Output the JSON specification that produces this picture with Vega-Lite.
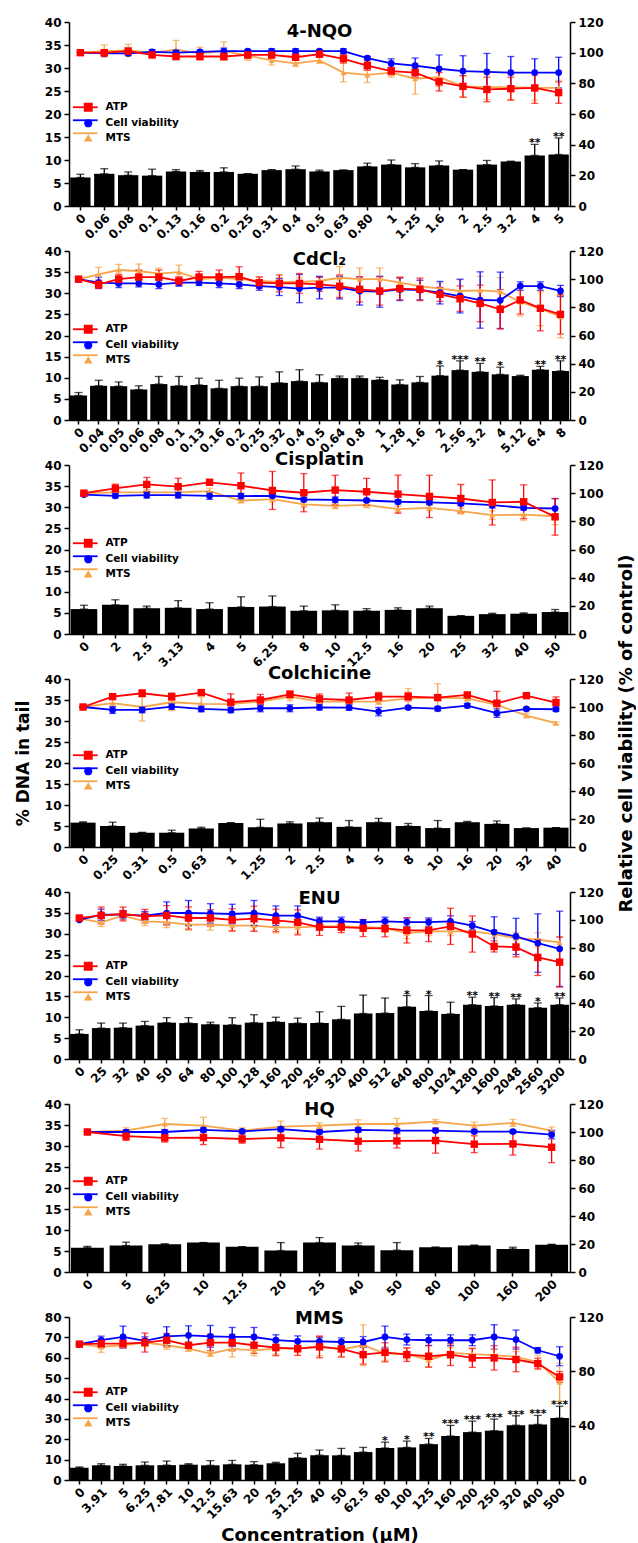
{
"$schema": "https://vega.github.io/schema/vega-lite/v6.json",
"background": "white",
"padding": {"left": 14, "right": 0, "top": 16, "bottom": 0},
"config": {
  "font": "DejaVu Sans",
  "view": {"stroke": null},
  "axis": {"labelFont": "DejaVu Sans", "labelFontSize": 12, "labelFontWeight": "bold", "labelColor": "#000", "domainColor": "#000", "domainWidth": 1.5, "tickColor": "#000", "tickWidth": 1.5, "tickSize": 5, "labelPadding": 3, "grid": false, "titleFontSize": 18, "titleFontWeight": "bold", "titleColor": "#000"},
  "axisX": {"labelAngle": -45, "tickSize": 4, "labelOverlap": false, "labelPadding": 2},
  "title": {"fontSize": 18, "fontWeight": "bold", "color": "#000", "anchor": "middle", "frame": "group", "offset": -22, "baseline": "alphabetic"},
  "legend": {"labelFontSize": 10.5, "labelFontWeight": "bold", "labelColor": "#000", "symbolSize": 50, "symbolOpacity": 1, "rowPadding": 2, "labelOffset": 12, "padding": 0}
},
"datasets": {
"b1": [
{"c":"0","d":6.2,"h":6.9,"t":""},{"c":"0.06","d":7.0,"h":8.1,"t":""},{"c":"0.08","d":6.7,"h":7.4,"t":""},{"c":"0.1","d":6.6,"h":8.0,"t":""},{"c":"0.13","d":7.5,"h":7.9,"t":""},{"c":"0.16","d":7.4,"h":7.7,"t":""},{"c":"0.2","d":7.4,"h":8.3,"t":""},{"c":"0.25","d":7.0,"h":7.0,"t":""},{"c":"0.31","d":7.8,"h":7.9,"t":""},{"c":"0.4","d":8.0,"h":8.7,"t":""},{"c":"0.5","d":7.5,"h":7.8,"t":""},{"c":"0.63","d":7.8,"h":7.8,"t":""},{"c":"0.80","d":8.6,"h":9.3,"t":""},{"c":"1","d":9.0,"h":10.0,"t":""},{"c":"1.25","d":8.4,"h":9.2,"t":""},{"c":"1.6","d":8.8,"h":9.8,"t":""},{"c":"2","d":7.9,"h":7.9,"t":""},{"c":"2.5","d":9.0,"h":9.9,"t":""},{"c":"3.2","d":9.7,"h":9.7,"t":""},{"c":"4","d":11.0,"h":13.4,"t":"**"},{"c":"5","d":11.2,"h":14.8,"t":"**"}
],
"l1": [
{"c":"0","s":"MTS","v":100,"e":0},{"c":"0.06","s":"MTS","v":101,"e":4},{"c":"0.08","s":"MTS","v":101.5,"e":4},{"c":"0.1","s":"MTS","v":100,"e":2},{"c":"0.13","s":"MTS","v":102,"e":6},{"c":"0.16","s":"MTS","v":99.5,"e":4},{"c":"0.2","s":"MTS","v":101,"e":6},{"c":"0.25","s":"MTS","v":98,"e":3},{"c":"0.31","s":"MTS","v":95,"e":3},{"c":"0.4","s":"MTS","v":93,"e":2},{"c":"0.5","s":"MTS","v":95,"e":2},{"c":"0.63","s":"MTS","v":87,"e":6},{"c":"0.80","s":"MTS","v":85.5,"e":5},{"c":"1","s":"MTS","v":87,"e":3},{"c":"1.25","s":"MTS","v":83,"e":10},{"c":"1.6","s":"MTS","v":84,"e":6},{"c":"2","s":"MTS","v":78,"e":7},{"c":"2.5","s":"MTS","v":77.5,"e":8},{"c":"3.2","s":"MTS","v":77.5,"e":8},{"c":"4","s":"MTS","v":77,"e":8},{"c":"5","s":"MTS","v":77,"e":5},
{"c":"0","s":"Cell viability","v":100,"e":0},{"c":"0.06","s":"Cell viability","v":99.5,"e":1.5},{"c":"0.08","s":"Cell viability","v":99.5,"e":1},{"c":"0.1","s":"Cell viability","v":100.5,"e":1.5},{"c":"0.13","s":"Cell viability","v":100,"e":1.5},{"c":"0.16","s":"Cell viability","v":100.5,"e":1},{"c":"0.2","s":"Cell viability","v":101,"e":2},{"c":"0.25","s":"Cell viability","v":101,"e":1},{"c":"0.31","s":"Cell viability","v":101,"e":1.5},{"c":"0.4","s":"Cell viability","v":101,"e":1.5},{"c":"0.5","s":"Cell viability","v":101,"e":1},{"c":"0.63","s":"Cell viability","v":101,"e":1.5},{"c":"0.80","s":"Cell viability","v":96.5,"e":1},{"c":"1","s":"Cell viability","v":93,"e":3},{"c":"1.25","s":"Cell viability","v":91.5,"e":5},{"c":"1.6","s":"Cell viability","v":89.5,"e":9},{"c":"2","s":"Cell viability","v":88,"e":10},{"c":"2.5","s":"Cell viability","v":87.5,"e":12},{"c":"3.2","s":"Cell viability","v":87,"e":10.5},{"c":"4","s":"Cell viability","v":87,"e":9},{"c":"5","s":"Cell viability","v":87,"e":10},
{"c":"0","s":"ATP","v":100,"e":0},{"c":"0.06","s":"ATP","v":100,"e":2},{"c":"0.08","s":"ATP","v":101,"e":2},{"c":"0.1","s":"ATP","v":98.5,"e":1.5},{"c":"0.13","s":"ATP","v":97.5,"e":2},{"c":"0.16","s":"ATP","v":97.5,"e":2},{"c":"0.2","s":"ATP","v":97.5,"e":2},{"c":"0.25","s":"ATP","v":98.5,"e":2},{"c":"0.31","s":"ATP","v":98.5,"e":2},{"c":"0.4","s":"ATP","v":97,"e":1.5},{"c":"0.5","s":"ATP","v":99,"e":2},{"c":"0.63","s":"ATP","v":96,"e":3},{"c":"0.80","s":"ATP","v":91.5,"e":3},{"c":"1","s":"ATP","v":88,"e":2.5},{"c":"1.25","s":"ATP","v":87,"e":3},{"c":"1.6","s":"ATP","v":81,"e":6},{"c":"2","s":"ATP","v":78,"e":7},{"c":"2.5","s":"ATP","v":76,"e":8},{"c":"3.2","s":"ATP","v":76.5,"e":7.5},{"c":"4","s":"ATP","v":77,"e":10},{"c":"5","s":"ATP","v":74,"e":7}
],
"b2": [
{"c":"0","d":5.8,"h":6.5,"t":""},{"c":"0.04","d":8.1,"h":9.4,"t":""},{"c":"0.05","d":8.0,"h":9.0,"t":""},{"c":"0.06","d":7.2,"h":8.1,"t":""},{"c":"0.08","d":8.5,"h":10.3,"t":""},{"c":"0.1","d":8.1,"h":10.3,"t":""},{"c":"0.13","d":8.3,"h":9.9,"t":""},{"c":"0.16","d":7.5,"h":9.4,"t":""},{"c":"0.2","d":8.0,"h":9.9,"t":""},{"c":"0.25","d":8.0,"h":10.2,"t":""},{"c":"0.32","d":8.8,"h":11.4,"t":""},{"c":"0.4","d":9.2,"h":11.9,"t":""},{"c":"0.5","d":8.9,"h":10.7,"t":""},{"c":"0.64","d":9.9,"h":10.4,"t":""},{"c":"0.8","d":9.9,"h":10.4,"t":""},{"c":"1","d":9.5,"h":10.1,"t":""},{"c":"1.28","d":8.4,"h":9.5,"t":""},{"c":"1.6","d":8.9,"h":10.3,"t":""},{"c":"2","d":10.5,"h":12.8,"t":"*"},{"c":"2.56","d":11.8,"h":14.0,"t":"***"},{"c":"3.2","d":11.4,"h":13.4,"t":"**"},{"c":"4","d":10.8,"h":12.5,"t":"*"},{"c":"5.12","d":10.4,"h":10.6,"t":""},{"c":"6.4","d":11.9,"h":12.7,"t":"**"},{"c":"8","d":11.6,"h":14.0,"t":"**"}
],
"l2": [
{"c":"0","s":"MTS","v":100,"e":0},{"c":"0.04","s":"MTS","v":103.4,"e":5},{"c":"0.05","s":"MTS","v":106.5,"e":4},{"c":"0.06","s":"MTS","v":105.8,"e":5},{"c":"0.08","s":"MTS","v":103.9,"e":4},{"c":"0.1","s":"MTS","v":105,"e":5},{"c":"0.13","s":"MTS","v":100,"e":3},{"c":"0.16","s":"MTS","v":101,"e":3},{"c":"0.2","s":"MTS","v":100,"e":3},{"c":"0.25","s":"MTS","v":98.7,"e":3},{"c":"0.32","s":"MTS","v":98,"e":3},{"c":"0.4","s":"MTS","v":98,"e":3},{"c":"0.5","s":"MTS","v":98.7,"e":3},{"c":"0.64","s":"MTS","v":101,"e":8},{"c":"0.8","s":"MTS","v":100,"e":8},{"c":"1","s":"MTS","v":100,"e":8},{"c":"1.28","s":"MTS","v":97.5,"e":4},{"c":"1.6","s":"MTS","v":95,"e":4},{"c":"2","s":"MTS","v":93.3,"e":4},{"c":"2.56","s":"MTS","v":91.6,"e":8},{"c":"3.2","s":"MTS","v":92,"e":10},{"c":"4","s":"MTS","v":91.1,"e":10},{"c":"5.12","s":"MTS","v":83.8,"e":10},{"c":"6.4","s":"MTS","v":79,"e":12},{"c":"8","s":"MTS","v":73.4,"e":15},
{"c":"0","s":"Cell viability","v":100,"e":0},{"c":"0.04","s":"Cell viability","v":97.5,"e":4},{"c":"0.05","s":"Cell viability","v":97,"e":3},{"c":"0.06","s":"Cell viability","v":97,"e":2.5},{"c":"0.08","s":"Cell viability","v":96.3,"e":3},{"c":"0.1","s":"Cell viability","v":97.5,"e":2.5},{"c":"0.13","s":"Cell viability","v":97.5,"e":2},{"c":"0.16","s":"Cell viability","v":97,"e":3},{"c":"0.2","s":"Cell viability","v":96.3,"e":3},{"c":"0.25","s":"Cell viability","v":95.1,"e":3},{"c":"0.32","s":"Cell viability","v":94.4,"e":6},{"c":"0.4","s":"Cell viability","v":93.3,"e":10},{"c":"0.5","s":"Cell viability","v":94,"e":8},{"c":"0.64","s":"Cell viability","v":94,"e":8},{"c":"0.8","s":"Cell viability","v":91.6,"e":10},{"c":"1","s":"Cell viability","v":91.1,"e":11},{"c":"1.28","s":"Cell viability","v":92.8,"e":8},{"c":"1.6","s":"Cell viability","v":92.3,"e":7},{"c":"2","s":"Cell viability","v":90.4,"e":8},{"c":"2.56","s":"Cell viability","v":88,"e":12},{"c":"3.2","s":"Cell viability","v":85.2,"e":20},{"c":"4","s":"Cell viability","v":85,"e":20},{"c":"5.12","s":"Cell viability","v":95.1,"e":3},{"c":"6.4","s":"Cell viability","v":95.1,"e":3},{"c":"8","s":"Cell viability","v":91.6,"e":4},
{"c":"0","s":"ATP","v":100,"e":0},{"c":"0.04","s":"ATP","v":96.3,"e":3},{"c":"0.05","s":"ATP","v":100,"e":3.5},{"c":"0.06","s":"ATP","v":101.5,"e":5},{"c":"0.08","s":"ATP","v":101.5,"e":5},{"c":"0.1","s":"ATP","v":98.7,"e":3},{"c":"0.13","s":"ATP","v":101.5,"e":4},{"c":"0.16","s":"ATP","v":101.5,"e":5},{"c":"0.2","s":"ATP","v":101.8,"e":7},{"c":"0.25","s":"ATP","v":97.5,"e":4},{"c":"0.32","s":"ATP","v":97,"e":6},{"c":"0.4","s":"ATP","v":97,"e":7},{"c":"0.5","s":"ATP","v":96.3,"e":5},{"c":"0.64","s":"ATP","v":95,"e":8},{"c":"0.8","s":"ATP","v":92.8,"e":9},{"c":"1","s":"ATP","v":91.6,"e":10},{"c":"1.28","s":"ATP","v":93.3,"e":8},{"c":"1.6","s":"ATP","v":92.8,"e":8},{"c":"2","s":"ATP","v":89.2,"e":5},{"c":"2.56","s":"ATP","v":86.2,"e":9},{"c":"3.2","s":"ATP","v":82.8,"e":13},{"c":"4","s":"ATP","v":78.6,"e":14},{"c":"5.12","s":"ATP","v":85.2,"e":10},{"c":"6.4","s":"ATP","v":79.3,"e":16},{"c":"8","s":"ATP","v":75,"e":14}
],
"b3": [
{"c":"0","d":5.9,"h":6.8,"t":""},{"c":"2","d":6.9,"h":8.1,"t":""},{"c":"2.5","d":6.1,"h":6.6,"t":""},{"c":"3.13","d":6.2,"h":7.9,"t":""},{"c":"4","d":5.9,"h":7.4,"t":""},{"c":"5","d":6.4,"h":8.8,"t":""},{"c":"6.25","d":6.5,"h":9.0,"t":""},{"c":"8","d":5.5,"h":6.6,"t":""},{"c":"10","d":5.6,"h":6.9,"t":""},{"c":"12.5","d":5.5,"h":6.0,"t":""},{"c":"16","d":5.7,"h":6.2,"t":""},{"c":"20","d":6.1,"h":6.6,"t":""},{"c":"25","d":4.3,"h":4.3,"t":""},{"c":"32","d":4.7,"h":4.9,"t":""},{"c":"40","d":4.8,"h":5.0,"t":""},{"c":"50","d":5.2,"h":5.8,"t":""}
],
"l3": [
{"c":"0","s":"MTS","v":100,"e":0},{"c":"2","s":"MTS","v":100.5,"e":1.5},{"c":"2.5","s":"MTS","v":100.5,"e":2},{"c":"3.13","s":"MTS","v":100.5,"e":2},{"c":"4","s":"MTS","v":101.5,"e":2},{"c":"5","s":"MTS","v":94.6,"e":1.5},{"c":"6.25","s":"MTS","v":95.8,"e":2},{"c":"8","s":"MTS","v":92,"e":2},{"c":"10","s":"MTS","v":91,"e":2},{"c":"12.5","s":"MTS","v":91.7,"e":2},{"c":"16","s":"MTS","v":88.6,"e":2},{"c":"20","s":"MTS","v":89.6,"e":2},{"c":"25","s":"MTS","v":87.2,"e":2},{"c":"32","s":"MTS","v":84.4,"e":3},{"c":"40","s":"MTS","v":84.8,"e":4},{"c":"50","s":"MTS","v":83.6,"e":6},
{"c":"0","s":"Cell viability","v":99,"e":1},{"c":"2","s":"Cell viability","v":98.1,"e":1.5},{"c":"2.5","s":"Cell viability","v":98.6,"e":2},{"c":"3.13","s":"Cell viability","v":98.6,"e":2},{"c":"4","s":"Cell viability","v":98.1,"e":2.5},{"c":"5","s":"Cell viability","v":97.9,"e":2},{"c":"6.25","s":"Cell viability","v":98.1,"e":1},{"c":"8","s":"Cell viability","v":95.5,"e":1.5},{"c":"10","s":"Cell viability","v":95.3,"e":2},{"c":"12.5","s":"Cell viability","v":94.8,"e":1},{"c":"16","s":"Cell viability","v":93.9,"e":1.5},{"c":"20","s":"Cell viability","v":93.4,"e":1.5},{"c":"25","s":"Cell viability","v":92.7,"e":1.5},{"c":"32","s":"Cell viability","v":91.5,"e":2},{"c":"40","s":"Cell viability","v":89.6,"e":1.5},{"c":"50","s":"Cell viability","v":89.1,"e":7},
{"c":"0","s":"ATP","v":100,"e":1},{"c":"2","s":"ATP","v":103.4,"e":3},{"c":"2.5","s":"ATP","v":106.2,"e":5},{"c":"3.13","s":"ATP","v":104.6,"e":6},{"c":"4","s":"ATP","v":107.7,"e":2},{"c":"5","s":"ATP","v":105.3,"e":9},{"c":"6.25","s":"ATP","v":101.9,"e":13.5},{"c":"8","s":"ATP","v":100.3,"e":13.5},{"c":"10","s":"ATP","v":102.2,"e":10.5},{"c":"12.5","s":"ATP","v":101,"e":9.5},{"c":"16","s":"ATP","v":99.3,"e":13.5},{"c":"20","s":"ATP","v":97.7,"e":15},{"c":"25","s":"ATP","v":96.2,"e":10},{"c":"32","s":"ATP","v":93.4,"e":16},{"c":"40","s":"ATP","v":93.9,"e":12},{"c":"50","s":"ATP","v":83.2,"e":13}
],
"b4": [
{"c":"0","d":5.8,"h":6.0,"t":""},{"c":"0.25","d":5.0,"h":5.9,"t":""},{"c":"0.31","d":3.4,"h":3.5,"t":""},{"c":"0.5","d":3.4,"h":4.0,"t":""},{"c":"0.63","d":4.4,"h":4.7,"t":""},{"c":"1","d":5.7,"h":5.8,"t":""},{"c":"1.25","d":4.7,"h":6.6,"t":""},{"c":"2","d":5.6,"h":6.0,"t":""},{"c":"2.5","d":5.9,"h":6.9,"t":""},{"c":"4","d":4.8,"h":6.3,"t":""},{"c":"5","d":5.9,"h":6.8,"t":""},{"c":"8","d":5.0,"h":5.6,"t":""},{"c":"10","d":4.5,"h":6.3,"t":""},{"c":"16","d":5.9,"h":6.1,"t":""},{"c":"20","d":5.5,"h":6.2,"t":""},{"c":"32","d":4.5,"h":4.5,"t":""},{"c":"40","d":4.6,"h":4.6,"t":""}
],
"l4": [
{"c":"0","s":"MTS","v":100,"e":0},{"c":"0.25","s":"MTS","v":102.7,"e":3},{"c":"0.31","s":"MTS","v":100,"e":10},{"c":"0.5","s":"MTS","v":103.4,"e":6},{"c":"0.63","s":"MTS","v":102.2,"e":5},{"c":"1","s":"MTS","v":102,"e":1},{"c":"1.25","s":"MTS","v":103.9,"e":2},{"c":"2","s":"MTS","v":107.4,"e":3},{"c":"2.5","s":"MTS","v":103.9,"e":4},{"c":"4","s":"MTS","v":103.9,"e":2},{"c":"5","s":"MTS","v":103.9,"e":2},{"c":"8","s":"MTS","v":106.2,"e":7},{"c":"10","s":"MTS","v":106.7,"e":10},{"c":"16","s":"MTS","v":106.2,"e":2},{"c":"20","s":"MTS","v":101.5,"e":2},{"c":"32","s":"MTS","v":93.9,"e":1.5},{"c":"40","s":"MTS","v":88.4,"e":1},
{"c":"0","s":"Cell viability","v":100,"e":0},{"c":"0.25","s":"Cell viability","v":97.9,"e":2.5},{"c":"0.31","s":"Cell viability","v":97.9,"e":2},{"c":"0.5","s":"Cell viability","v":100.3,"e":2},{"c":"0.63","s":"Cell viability","v":98.6,"e":2},{"c":"1","s":"Cell viability","v":97.9,"e":2},{"c":"1.25","s":"Cell viability","v":99.1,"e":2.5},{"c":"2","s":"Cell viability","v":99.1,"e":2.5},{"c":"2.5","s":"Cell viability","v":99.8,"e":2},{"c":"4","s":"Cell viability","v":99.6,"e":2},{"c":"5","s":"Cell viability","v":96.7,"e":3},{"c":"8","s":"Cell viability","v":99.6,"e":1},{"c":"10","s":"Cell viability","v":98.9,"e":1.5},{"c":"16","s":"Cell viability","v":101,"e":1.5},{"c":"20","s":"Cell viability","v":95.6,"e":3},{"c":"32","s":"Cell viability","v":98.6,"e":1},{"c":"40","s":"Cell viability","v":98.4,"e":1.5},
{"c":"0","s":"ATP","v":100,"e":0},{"c":"0.25","s":"ATP","v":107.4,"e":1.5},{"c":"0.31","s":"ATP","v":109.8,"e":2.5},{"c":"0.5","s":"ATP","v":107.4,"e":2.5},{"c":"0.63","s":"ATP","v":110.3,"e":1},{"c":"1","s":"ATP","v":103.4,"e":6},{"c":"1.25","s":"ATP","v":105,"e":4},{"c":"2","s":"ATP","v":109,"e":2.5},{"c":"2.5","s":"ATP","v":105.8,"e":3.5},{"c":"4","s":"ATP","v":105,"e":5},{"c":"5","s":"ATP","v":107.4,"e":3},{"c":"8","s":"ATP","v":107.4,"e":3},{"c":"10","s":"ATP","v":106.7,"e":2},{"c":"16","s":"ATP","v":108.6,"e":1},{"c":"20","s":"ATP","v":102.7,"e":8.5},{"c":"32","s":"ATP","v":108.1,"e":1},{"c":"40","s":"ATP","v":103.2,"e":4}
],
"b5": [
{"c":"0","d":6.0,"h":7.0,"t":""},{"c":"25","d":7.4,"h":8.6,"t":""},{"c":"32","d":7.5,"h":8.6,"t":""},{"c":"40","d":8.0,"h":9.0,"t":""},{"c":"50","d":8.7,"h":9.9,"t":""},{"c":"64","d":8.6,"h":9.9,"t":""},{"c":"80","d":8.3,"h":8.8,"t":""},{"c":"100","d":8.2,"h":9.9,"t":""},{"c":"128","d":8.7,"h":10.6,"t":""},{"c":"160","d":8.9,"h":10.0,"t":""},{"c":"200","d":8.6,"h":9.8,"t":""},{"c":"256","d":8.6,"h":11.3,"t":""},{"c":"320","d":9.5,"h":12.6,"t":""},{"c":"400","d":10.9,"h":15.3,"t":""},{"c":"512","d":11.0,"h":14.6,"t":""},{"c":"640","d":12.5,"h":15.2,"t":"*"},{"c":"800","d":11.5,"h":15.2,"t":"*"},{"c":"1024","d":10.8,"h":13.6,"t":""},{"c":"1280","d":13.0,"h":14.8,"t":"**"},{"c":"1600","d":12.7,"h":14.7,"t":"**"},{"c":"2048","d":13.0,"h":14.4,"t":"**"},{"c":"2560","d":12.3,"h":13.4,"t":"*"},{"c":"3200","d":13.0,"h":14.6,"t":"**"}
],
"l5": [
{"c":"0","s":"MTS","v":100.8,"e":1},{"c":"25","s":"MTS","v":98.2,"e":3},{"c":"32","s":"MTS","v":103,"e":3},{"c":"40","s":"MTS","v":98.9,"e":3},{"c":"50","s":"MTS","v":98.4,"e":4},{"c":"64","s":"MTS","v":96.5,"e":4},{"c":"80","s":"MTS","v":96.5,"e":4},{"c":"100","s":"MTS","v":95.8,"e":4},{"c":"128","s":"MTS","v":95.8,"e":4},{"c":"160","s":"MTS","v":94.6,"e":4},{"c":"200","s":"MTS","v":94.6,"e":4},{"c":"256","s":"MTS","v":95.3,"e":3},{"c":"320","s":"MTS","v":95.3,"e":3},{"c":"400","s":"MTS","v":94.8,"e":3},{"c":"512","s":"MTS","v":94,"e":3},{"c":"640","s":"MTS","v":90.5,"e":4},{"c":"800","s":"MTS","v":91.7,"e":3},{"c":"1024","s":"MTS","v":91.7,"e":3},{"c":"1280","s":"MTS","v":91.7,"e":3},{"c":"1600","s":"MTS","v":89.8,"e":3},{"c":"2048","s":"MTS","v":86.9,"e":4},{"c":"2560","s":"MTS","v":85.7,"e":5},{"c":"3200","s":"MTS","v":83.8,"e":4},
{"c":"0","s":"Cell viability","v":100,"e":1},{"c":"25","s":"Cell viability","v":103.7,"e":4},{"c":"32","s":"Cell viability","v":103.7,"e":3},{"c":"40","s":"Cell viability","v":103,"e":3},{"c":"50","s":"Cell viability","v":104.9,"e":8},{"c":"64","s":"Cell viability","v":104.9,"e":9},{"c":"80","s":"Cell viability","v":104.6,"e":7},{"c":"100","s":"Cell viability","v":104.2,"e":7},{"c":"128","s":"Cell viability","v":104.9,"e":9},{"c":"160","s":"Cell viability","v":103,"e":7},{"c":"200","s":"Cell viability","v":103,"e":7},{"c":"256","s":"Cell viability","v":98.9,"e":3},{"c":"320","s":"Cell viability","v":98.9,"e":3},{"c":"400","s":"Cell viability","v":98.2,"e":2},{"c":"512","s":"Cell viability","v":98.9,"e":3},{"c":"640","s":"Cell viability","v":98.4,"e":3},{"c":"800","s":"Cell viability","v":98.4,"e":3},{"c":"1024","s":"Cell viability","v":98.9,"e":4},{"c":"1280","s":"Cell viability","v":95.8,"e":3},{"c":"1600","s":"Cell viability","v":91.2,"e":11},{"c":"2048","s":"Cell viability","v":88.1,"e":13},{"c":"2560","s":"Cell viability","v":83.3,"e":21},{"c":"3200","s":"Cell viability","v":79.2,"e":27},
{"c":"0","s":"ATP","v":101.3,"e":1},{"c":"25","s":"ATP","v":103.2,"e":6},{"c":"32","s":"ATP","v":104.2,"e":5},{"c":"40","s":"ATP","v":102.5,"e":5},{"c":"50","s":"ATP","v":103.2,"e":7},{"c":"64","s":"ATP","v":101.3,"e":8},{"c":"80","s":"ATP","v":101.3,"e":6},{"c":"100","s":"ATP","v":100,"e":8},{"c":"128","s":"ATP","v":100.8,"e":9},{"c":"160","s":"ATP","v":99.6,"e":8},{"c":"200","s":"ATP","v":98.2,"e":9},{"c":"256","s":"ATP","v":94.8,"e":6},{"c":"320","s":"ATP","v":94.8,"e":4},{"c":"400","s":"ATP","v":94,"e":6},{"c":"512","s":"ATP","v":93.8,"e":6},{"c":"640","s":"ATP","v":92.4,"e":9},{"c":"800","s":"ATP","v":92.4,"e":8},{"c":"1024","s":"ATP","v":95.3,"e":13},{"c":"1280","s":"ATP","v":89.8,"e":13},{"c":"1600","s":"ATP","v":80.9,"e":4},{"c":"2048","s":"ATP","v":80.4,"e":7},{"c":"2560","s":"ATP","v":73,"e":13},{"c":"3200","s":"ATP","v":69.6,"e":18}
],
"b6": [
{"c":"0","d":5.8,"h":6.1,"t":""},{"c":"5","d":6.3,"h":7.1,"t":""},{"c":"6.25","d":6.6,"h":6.7,"t":""},{"c":"10","d":7.0,"h":7.0,"t":""},{"c":"12.5","d":6.0,"h":6.0,"t":""},{"c":"20","d":5.1,"h":7.0,"t":""},{"c":"25","d":7.0,"h":8.2,"t":""},{"c":"40","d":6.3,"h":6.9,"t":""},{"c":"50","d":5.2,"h":7.0,"t":""},{"c":"80","d":5.9,"h":5.9,"t":""},{"c":"100","d":6.3,"h":6.4,"t":""},{"c":"160","d":5.5,"h":5.9,"t":""},{"c":"200","d":6.5,"h":6.6,"t":""}
],
"l6": [
{"c":"0","s":"MTS","v":100,"e":0},{"c":"5","s":"MTS","v":101,"e":2},{"c":"6.25","s":"MTS","v":105.7,"e":4},{"c":"10","s":"MTS","v":104.6,"e":6},{"c":"12.5","s":"MTS","v":101,"e":2},{"c":"20","s":"MTS","v":103.8,"e":4},{"c":"25","s":"MTS","v":104.6,"e":2},{"c":"40","s":"MTS","v":105.7,"e":3},{"c":"50","s":"MTS","v":105.7,"e":4},{"c":"80","s":"MTS","v":107.4,"e":1.5},{"c":"100","s":"MTS","v":104.6,"e":2.5},{"c":"160","s":"MTS","v":106.5,"e":2.5},{"c":"200","s":"MTS","v":101,"e":2.5},
{"c":"0","s":"Cell viability","v":100,"e":0},{"c":"5","s":"Cell viability","v":100,"e":1.5},{"c":"6.25","s":"Cell viability","v":100,"e":1.5},{"c":"10","s":"Cell viability","v":101.5,"e":1.5},{"c":"12.5","s":"Cell viability","v":100.5,"e":1},{"c":"20","s":"Cell viability","v":102,"e":1.5},{"c":"25","s":"Cell viability","v":100,"e":1},{"c":"40","s":"Cell viability","v":101.5,"e":1.5},{"c":"50","s":"Cell viability","v":101,"e":1.5},{"c":"80","s":"Cell viability","v":101,"e":1},{"c":"100","s":"Cell viability","v":100.3,"e":1},{"c":"160","s":"Cell viability","v":100.3,"e":1},{"c":"200","s":"Cell viability","v":98.1,"e":3},
{"c":"0","s":"ATP","v":100,"e":0},{"c":"5","s":"ATP","v":97,"e":3},{"c":"6.25","s":"ATP","v":95.8,"e":3},{"c":"10","s":"ATP","v":96,"e":5},{"c":"12.5","s":"ATP","v":95,"e":3},{"c":"20","s":"ATP","v":95.8,"e":7},{"c":"25","s":"ATP","v":94.8,"e":7},{"c":"40","s":"ATP","v":93.4,"e":7},{"c":"50","s":"ATP","v":93.6,"e":5},{"c":"80","s":"ATP","v":93.9,"e":9},{"c":"100","s":"ATP","v":91.3,"e":6},{"c":"160","s":"ATP","v":91.5,"e":8},{"c":"200","s":"ATP","v":89.1,"e":11}
],
"b7": [
{"c":"0","d":6.0,"h":6.4,"t":""},{"c":"3.91","d":7.2,"h":8.0,"t":""},{"c":"5","d":6.9,"h":7.7,"t":""},{"c":"6.25","d":7.2,"h":8.8,"t":""},{"c":"7.81","d":7.3,"h":9.3,"t":""},{"c":"10","d":7.5,"h":8.0,"t":""},{"c":"12.5","d":7.2,"h":9.5,"t":""},{"c":"15.63","d":7.7,"h":9.6,"t":""},{"c":"20","d":7.5,"h":9.0,"t":""},{"c":"25","d":8.2,"h":8.7,"t":""},{"c":"31.25","d":10.9,"h":13.1,"t":""},{"c":"40","d":12.2,"h":14.7,"t":""},{"c":"50","d":12.1,"h":15.5,"t":""},{"c":"62.5","d":13.7,"h":16.0,"t":""},{"c":"80","d":15.7,"h":18.6,"t":"*"},{"c":"100","d":16.0,"h":19.1,"t":"*"},{"c":"125","d":17.6,"h":20.4,"t":"**"},{"c":"160","d":21.6,"h":26.8,"t":"***"},{"c":"200","d":23.5,"h":28.9,"t":"***"},{"c":"250","d":24.2,"h":29.9,"t":"***"},{"c":"320","d":26.9,"h":31.5,"t":"***"},{"c":"400","d":27.3,"h":31.7,"t":"***"},{"c":"500","d":30.4,"h":36.2,"t":"***"}
],
"l7": [
{"c":"0","s":"MTS","v":100,"e":0},{"c":"3.91","s":"MTS","v":98,"e":4},{"c":"5","s":"MTS","v":99.2,"e":2},{"c":"6.25","s":"MTS","v":101.2,"e":3},{"c":"7.81","s":"MTS","v":99.2,"e":3},{"c":"10","s":"MTS","v":96.7,"e":2},{"c":"12.5","s":"MTS","v":93.1,"e":2},{"c":"15.63","s":"MTS","v":96.5,"e":6},{"c":"20","s":"MTS","v":95.5,"e":4},{"c":"25","s":"MTS","v":96.7,"e":4},{"c":"31.25","s":"MTS","v":96.7,"e":3},{"c":"40","s":"MTS","v":98.5,"e":7},{"c":"50","s":"MTS","v":96,"e":5},{"c":"62.5","s":"MTS","v":99.2,"e":15},{"c":"80","s":"MTS","v":93.1,"e":5},{"c":"100","s":"MTS","v":93.1,"e":4},{"c":"125","s":"MTS","v":88.2,"e":5},{"c":"160","s":"MTS","v":93.6,"e":4},{"c":"200","s":"MTS","v":92.6,"e":4},{"c":"250","s":"MTS","v":92,"e":4},{"c":"320","s":"MTS","v":90.6,"e":4},{"c":"400","s":"MTS","v":86.9,"e":5},{"c":"500","s":"MTS","v":72,"e":14},
{"c":"0","s":"Cell viability","v":100,"e":0},{"c":"3.91","s":"Cell viability","v":102.9,"e":3},{"c":"5","s":"Cell viability","v":105.3,"e":8},{"c":"6.25","s":"Cell viability","v":102.4,"e":3},{"c":"7.81","s":"Cell viability","v":105.8,"e":7},{"c":"10","s":"Cell viability","v":106.5,"e":7},{"c":"12.5","s":"Cell viability","v":105.8,"e":8},{"c":"15.63","s":"Cell viability","v":105.3,"e":7},{"c":"20","s":"Cell viability","v":105.3,"e":7},{"c":"25","s":"Cell viability","v":102.9,"e":4},{"c":"31.25","s":"Cell viability","v":102.1,"e":4},{"c":"40","s":"Cell viability","v":102.1,"e":3},{"c":"50","s":"Cell viability","v":101.6,"e":3},{"c":"62.5","s":"Cell viability","v":101.6,"e":4},{"c":"80","s":"Cell viability","v":105.3,"e":8},{"c":"100","s":"Cell viability","v":103.4,"e":4},{"c":"125","s":"Cell viability","v":102.9,"e":4},{"c":"160","s":"Cell viability","v":102.9,"e":4},{"c":"200","s":"Cell viability","v":102.9,"e":4},{"c":"250","s":"Cell viability","v":105.3,"e":9},{"c":"320","s":"Cell viability","v":103.4,"e":7},{"c":"400","s":"Cell viability","v":95.5,"e":2},{"c":"500","s":"Cell viability","v":91.1,"e":7},
{"c":"0","s":"ATP","v":100,"e":0},{"c":"3.91","s":"ATP","v":100.4,"e":3},{"c":"5","s":"ATP","v":100.4,"e":3},{"c":"6.25","s":"ATP","v":101.2,"e":7},{"c":"7.81","s":"ATP","v":102.9,"e":5},{"c":"10","s":"ATP","v":99.2,"e":2},{"c":"12.5","s":"ATP","v":101.2,"e":6},{"c":"15.63","s":"ATP","v":101.2,"e":6},{"c":"20","s":"ATP","v":99.2,"e":6},{"c":"25","s":"ATP","v":97.5,"e":6},{"c":"31.25","s":"ATP","v":96.7,"e":5},{"c":"40","s":"ATP","v":98,"e":8},{"c":"50","s":"ATP","v":96.5,"e":6},{"c":"62.5","s":"ATP","v":92.3,"e":7},{"c":"80","s":"ATP","v":94,"e":7},{"c":"100","s":"ATP","v":92.3,"e":5},{"c":"125","s":"ATP","v":91.1,"e":8},{"c":"160","s":"ATP","v":92.3,"e":8},{"c":"200","s":"ATP","v":89.9,"e":7},{"c":"250","s":"ATP","v":89.9,"e":9},{"c":"320","s":"ATP","v":88.7,"e":9},{"c":"400","s":"ATP","v":85.7,"e":4},{"c":"500","s":"ATP","v":75.9,"e":4}
]
},
"spacing": 45,
"bounds": "flush",
"resolve": {"scale": {"color": "independent", "stroke": "independent", "shape": "independent", "size": "independent"}, "legend": {"color": "independent", "stroke": "independent", "shape": "independent", "size": "independent"}},
"vconcat": [
{
 "title": {"text": "4-NQO", "offset": -25}, "width": 501, "height": 184,
 "resolve": {"scale": {"y": "independent"}},
 "layer": [
  {"data": {"name": "b1"}, "layer": [
   {"mark": {"type": "bar", "color": "#000"}, "encoding": {
     "x": {"field": "c", "type": "nominal", "sort": null, "scale": {"paddingInner": 0.15, "paddingOuter": 0.05}, "axis": {"title": null}},
     "y": {"field": "d", "type": "quantitative", "scale": {"domain": [0, 40]}, "axis": {"orient": "left", "values": [0,5,10,15,20,25,30,35,40], "title": null}}}},
   {"mark": {"type": "errorbar", "ticks": true, "size": 8, "thickness": 1.3, "color": "#000"}, "encoding": {
     "x": {"field": "c", "type": "nominal", "sort": null, "axis": {"title": null}},
     "y": {"field": "d", "type": "quantitative", "scale": {"domain": [0, 40]}, "axis": {"orient": "left", "values": [0,5,10,15,20,25,30,35,40], "title": null}},
     "y2": {"field": "h"}}},
   {"mark": {"type": "text", "baseline": "alphabetic", "dy": 2, "fontSize": 11, "fontWeight": "bold", "color": "#000"}, "encoding": {
     "x": {"field": "c", "type": "nominal", "sort": null, "axis": {"title": null}},
     "y": {"field": "h", "type": "quantitative", "scale": {"domain": [0, 40]}, "axis": {"orient": "left", "values": [0,5,10,15,20,25,30,35,40], "title": null}},
     "text": {"field": "t"}}}
  ]},
  {"data": {"name": "l1"}, "layer": [
   {"mark": {"type": "line", "strokeWidth": 1.8}, "encoding": {
     "x": {"field": "c", "type": "nominal", "sort": null, "axis": {"title": null}},
     "y": {"field": "v", "type": "quantitative", "scale": {"domain": [0, 120]}, "axis": {"orient": "right", "values": [0,20,40,60,80,100,120], "title": null}},
     "stroke": {"field": "s", "type": "nominal", "scale": {"range": ["#ff0000","#0000ff","#f7a54a"]}, "legend": {"orient": "none", "legendX": 11, "legendY": 80, "title": null, "symbolType": "M-3.5,0H3.5", "symbolStrokeWidth": 1.8, "labelExpr": "' '", "labelOffset": -4}},
     "order": {"value": null}}},
   {"mark": {"type": "errorbar", "ticks": true, "size": 7, "thickness": 1.3}, "encoding": {
     "x": {"field": "c", "type": "nominal", "sort": null, "axis": {"title": null}},
     "y": {"field": "v", "type": "quantitative", "scale": {"domain": [0, 120]}, "axis": {"orient": "right", "values": [0,20,40,60,80,100,120], "title": null}},
     "yError": {"field": "e"},
     "color": {"field": "s", "type": "nominal", "scale": {"domain": ["ATP","Cell viability","MTS"], "range": ["#ff0000","#0000ff","#f7a54a"]}}}},
   {"mark": {"type": "point", "filled": true, "opacity": 1}, "encoding": {
     "x": {"field": "c", "type": "nominal", "sort": null, "axis": {"title": null}},
     "y": {"field": "v", "type": "quantitative", "scale": {"domain": [0, 120]}, "axis": {"orient": "right", "values": [0,20,40,60,80,100,120], "title": null}},
     "color": {"field": "s", "type": "nominal", "scale": {"domain": ["ATP","Cell viability","MTS"], "range": ["#ff0000","#0000ff","#f7a54a"]}, "legend": {"orient": "none", "legendX": 14, "legendY": 80, "title": null}},
     "shape": {"field": "s", "type": "nominal", "scale": {"domain": ["ATP","Cell viability","MTS"], "range": ["square","circle","triangle-up"]}, "legend": {"orient": "none", "legendX": 14, "legendY": 80, "title": null}},
     "size": {"field": "s", "type": "nominal", "scale": {"domain": ["ATP","Cell viability","MTS"], "range": [55,36,30]}, "legend": null}}}
  ]}
 ]
},
{
 "title": {"text": "CdCl₂", "offset": -24}, "width": 501, "height": 169,
 "resolve": {"scale": {"y": "independent"}},
 "layer": [
  {"data": {"name": "b2"}, "layer": [
   {"mark": {"type": "bar", "color": "#000"}, "encoding": {
     "x": {"field": "c", "type": "nominal", "sort": null, "scale": {"paddingInner": 0.15, "paddingOuter": 0.05}, "axis": {"title": null}},
     "y": {"field": "d", "type": "quantitative", "scale": {"domain": [0, 40]}, "axis": {"orient": "left", "values": [0,5,10,15,20,25,30,35,40], "title": null}}}},
   {"mark": {"type": "errorbar", "ticks": true, "size": 8, "thickness": 1.3, "color": "#000"}, "encoding": {
     "x": {"field": "c", "type": "nominal", "sort": null, "axis": {"title": null}},
     "y": {"field": "d", "type": "quantitative", "scale": {"domain": [0, 40]}, "axis": {"orient": "left", "values": [0,5,10,15,20,25,30,35,40], "title": null}},
     "y2": {"field": "h"}}},
   {"mark": {"type": "text", "baseline": "alphabetic", "dy": 2, "fontSize": 11, "fontWeight": "bold", "color": "#000"}, "encoding": {
     "x": {"field": "c", "type": "nominal", "sort": null, "axis": {"title": null}},
     "y": {"field": "h", "type": "quantitative", "scale": {"domain": [0, 40]}, "axis": {"orient": "left", "values": [0,5,10,15,20,25,30,35,40], "title": null}},
     "text": {"field": "t"}}}
  ]},
  {"data": {"name": "l2"}, "layer": [
   {"mark": {"type": "line", "strokeWidth": 1.8}, "encoding": {
     "x": {"field": "c", "type": "nominal", "sort": null, "axis": {"title": null}},
     "y": {"field": "v", "type": "quantitative", "scale": {"domain": [0, 120]}, "axis": {"orient": "right", "values": [0,20,40,60,80,100,120], "title": null}},
     "stroke": {"field": "s", "type": "nominal", "scale": {"range": ["#ff0000","#0000ff","#f7a54a"]}, "legend": {"orient": "none", "legendX": 11, "legendY": 73, "title": null, "symbolType": "M-3.5,0H3.5", "symbolStrokeWidth": 1.8, "labelExpr": "' '", "labelOffset": -4}},
     "order": {"value": null}}},
   {"mark": {"type": "errorbar", "ticks": true, "size": 7, "thickness": 1.3}, "encoding": {
     "x": {"field": "c", "type": "nominal", "sort": null, "axis": {"title": null}},
     "y": {"field": "v", "type": "quantitative", "scale": {"domain": [0, 120]}, "axis": {"orient": "right", "values": [0,20,40,60,80,100,120], "title": null}},
     "yError": {"field": "e"},
     "color": {"field": "s", "type": "nominal", "scale": {"domain": ["ATP","Cell viability","MTS"], "range": ["#ff0000","#0000ff","#f7a54a"]}}}},
   {"mark": {"type": "point", "filled": true, "opacity": 1}, "encoding": {
     "x": {"field": "c", "type": "nominal", "sort": null, "axis": {"title": null}},
     "y": {"field": "v", "type": "quantitative", "scale": {"domain": [0, 120]}, "axis": {"orient": "right", "values": [0,20,40,60,80,100,120], "title": null}},
     "color": {"field": "s", "type": "nominal", "scale": {"domain": ["ATP","Cell viability","MTS"], "range": ["#ff0000","#0000ff","#f7a54a"]}, "legend": {"orient": "none", "legendX": 14, "legendY": 73, "title": null}},
     "shape": {"field": "s", "type": "nominal", "scale": {"domain": ["ATP","Cell viability","MTS"], "range": ["square","circle","triangle-up"]}, "legend": {"orient": "none", "legendX": 14, "legendY": 73, "title": null}},
     "size": {"field": "s", "type": "nominal", "scale": {"domain": ["ATP","Cell viability","MTS"], "range": [55,36,30]}, "legend": null}}}
  ]}
 ]
},
{
 "title": {"text": "Cisplatin", "offset": -10}, "width": 501, "height": 169,
 "resolve": {"scale": {"y": "independent"}},
 "layer": [
  {"data": {"name": "b3"}, "layer": [
   {"mark": {"type": "bar", "color": "#000"}, "encoding": {
     "x": {"field": "c", "type": "nominal", "sort": null, "scale": {"paddingInner": 0.15, "paddingOuter": 0.05}, "axis": {"title": null}},
     "y": {"field": "d", "type": "quantitative", "scale": {"domain": [0, 40]}, "axis": {"orient": "left", "values": [0,5,10,15,20,25,30,35,40], "title": null}}}},
   {"mark": {"type": "errorbar", "ticks": true, "size": 8, "thickness": 1.3, "color": "#000"}, "encoding": {
     "x": {"field": "c", "type": "nominal", "sort": null, "axis": {"title": null}},
     "y": {"field": "d", "type": "quantitative", "scale": {"domain": [0, 40]}, "axis": {"orient": "left", "values": [0,5,10,15,20,25,30,35,40], "title": null}},
     "y2": {"field": "h"}}},
   {"mark": {"type": "text", "baseline": "alphabetic", "dy": 2, "fontSize": 11, "fontWeight": "bold", "color": "#000"}, "encoding": {
     "x": {"field": "c", "type": "nominal", "sort": null, "axis": {"title": null}},
     "y": {"field": "h", "type": "quantitative", "scale": {"domain": [0, 40]}, "axis": {"orient": "left", "values": [0,5,10,15,20,25,30,35,40], "title": null}},
     "text": {"field": "t"}}}
  ]},
  {"data": {"name": "l3"}, "layer": [
   {"mark": {"type": "line", "strokeWidth": 1.8}, "encoding": {
     "x": {"field": "c", "type": "nominal", "sort": null, "axis": {"title": null}},
     "y": {"field": "v", "type": "quantitative", "scale": {"domain": [0, 120]}, "axis": {"orient": "right", "values": [0,20,40,60,80,100,120], "title": null}},
     "stroke": {"field": "s", "type": "nominal", "scale": {"range": ["#ff0000","#0000ff","#f7a54a"]}, "legend": {"orient": "none", "legendX": 11, "legendY": 73, "title": null, "symbolType": "M-3.5,0H3.5", "symbolStrokeWidth": 1.8, "labelExpr": "' '", "labelOffset": -4}},
     "order": {"value": null}}},
   {"mark": {"type": "errorbar", "ticks": true, "size": 7, "thickness": 1.3}, "encoding": {
     "x": {"field": "c", "type": "nominal", "sort": null, "axis": {"title": null}},
     "y": {"field": "v", "type": "quantitative", "scale": {"domain": [0, 120]}, "axis": {"orient": "right", "values": [0,20,40,60,80,100,120], "title": null}},
     "yError": {"field": "e"},
     "color": {"field": "s", "type": "nominal", "scale": {"domain": ["ATP","Cell viability","MTS"], "range": ["#ff0000","#0000ff","#f7a54a"]}}}},
   {"mark": {"type": "point", "filled": true, "opacity": 1}, "encoding": {
     "x": {"field": "c", "type": "nominal", "sort": null, "axis": {"title": null}},
     "y": {"field": "v", "type": "quantitative", "scale": {"domain": [0, 120]}, "axis": {"orient": "right", "values": [0,20,40,60,80,100,120], "title": null}},
     "color": {"field": "s", "type": "nominal", "scale": {"domain": ["ATP","Cell viability","MTS"], "range": ["#ff0000","#0000ff","#f7a54a"]}, "legend": {"orient": "none", "legendX": 14, "legendY": 73, "title": null}},
     "shape": {"field": "s", "type": "nominal", "scale": {"domain": ["ATP","Cell viability","MTS"], "range": ["square","circle","triangle-up"]}, "legend": {"orient": "none", "legendX": 14, "legendY": 73, "title": null}},
     "size": {"field": "s", "type": "nominal", "scale": {"domain": ["ATP","Cell viability","MTS"], "range": [55,36,30]}, "legend": null}}}
  ]}
 ]
},
{
 "title": {"text": "Colchicine", "offset": -129}, "width": 501, "height": 168,
 "resolve": {"scale": {"y": "independent"}},
 "layer": [
  {"data": {"name": "b4"}, "layer": [
   {"mark": {"type": "bar", "color": "#000"}, "encoding": {
     "x": {"field": "c", "type": "nominal", "sort": null, "scale": {"paddingInner": 0.15, "paddingOuter": 0.05}, "axis": {"title": null}},
     "y": {"field": "d", "type": "quantitative", "scale": {"domain": [0, 40]}, "axis": {"orient": "left", "values": [0,5,10,15,20,25,30,35,40], "title": "% DNA in tail", "titleFontSize": 17, "titlePadding": 12}}}},
   {"mark": {"type": "errorbar", "ticks": true, "size": 8, "thickness": 1.3, "color": "#000"}, "encoding": {
     "x": {"field": "c", "type": "nominal", "sort": null, "axis": {"title": null}},
     "y": {"field": "d", "type": "quantitative", "scale": {"domain": [0, 40]}, "axis": {"orient": "left", "values": [0,5,10,15,20,25,30,35,40], "title": "% DNA in tail", "titleFontSize": 17, "titlePadding": 12}},
     "y2": {"field": "h"}}},
   {"mark": {"type": "text", "baseline": "alphabetic", "dy": 2, "fontSize": 11, "fontWeight": "bold", "color": "#000"}, "encoding": {
     "x": {"field": "c", "type": "nominal", "sort": null, "axis": {"title": null}},
     "y": {"field": "h", "type": "quantitative", "scale": {"domain": [0, 40]}, "axis": {"orient": "left", "values": [0,5,10,15,20,25,30,35,40], "title": "% DNA in tail", "titleFontSize": 17, "titlePadding": 12}},
     "text": {"field": "t"}}}
  ]},
  {"data": {"name": "l4"}, "layer": [
   {"mark": {"type": "line", "strokeWidth": 1.8}, "encoding": {
     "x": {"field": "c", "type": "nominal", "sort": null, "axis": {"title": null}},
     "y": {"field": "v", "type": "quantitative", "scale": {"domain": [0, 120]}, "axis": {"orient": "right", "values": [0,20,40,60,80,100,120], "title": "Relative cell viability (% of control)", "titleAngle": 270, "titleBaseline": "top", "titleFontSize": 18, "titlePadding": 14, "titleY": 54}},
     "stroke": {"field": "s", "type": "nominal", "scale": {"range": ["#ff0000","#0000ff","#f7a54a"]}, "legend": {"orient": "none", "legendX": 11, "legendY": 71, "title": null, "symbolType": "M-3.5,0H3.5", "symbolStrokeWidth": 1.8, "labelExpr": "' '", "labelOffset": -4}},
     "order": {"value": null}}},
   {"mark": {"type": "errorbar", "ticks": true, "size": 7, "thickness": 1.3}, "encoding": {
     "x": {"field": "c", "type": "nominal", "sort": null, "axis": {"title": null}},
     "y": {"field": "v", "type": "quantitative", "scale": {"domain": [0, 120]}, "axis": {"orient": "right", "values": [0,20,40,60,80,100,120], "title": "Relative cell viability (% of control)", "titleAngle": 270, "titleBaseline": "top", "titleFontSize": 18, "titlePadding": 14, "titleY": 54}},
     "yError": {"field": "e"},
     "color": {"field": "s", "type": "nominal", "scale": {"domain": ["ATP","Cell viability","MTS"], "range": ["#ff0000","#0000ff","#f7a54a"]}}}},
   {"mark": {"type": "point", "filled": true, "opacity": 1}, "encoding": {
     "x": {"field": "c", "type": "nominal", "sort": null, "axis": {"title": null}},
     "y": {"field": "v", "type": "quantitative", "scale": {"domain": [0, 120]}, "axis": {"orient": "right", "values": [0,20,40,60,80,100,120], "title": "Relative cell viability (% of control)", "titleAngle": 270, "titleBaseline": "top", "titleFontSize": 18, "titlePadding": 14, "titleY": 54}},
     "color": {"field": "s", "type": "nominal", "scale": {"domain": ["ATP","Cell viability","MTS"], "range": ["#ff0000","#0000ff","#f7a54a"]}, "legend": {"orient": "none", "legendX": 14, "legendY": 71, "title": null}},
     "shape": {"field": "s", "type": "nominal", "scale": {"domain": ["ATP","Cell viability","MTS"], "range": ["square","circle","triangle-up"]}, "legend": {"orient": "none", "legendX": 14, "legendY": 71, "title": null}},
     "size": {"field": "s", "type": "nominal", "scale": {"domain": ["ATP","Cell viability","MTS"], "range": [55,36,30]}, "legend": null}}}
  ]}
 ]
},
{
 "title": {"text": "ENU", "offset": -22}, "width": 501, "height": 167,
 "resolve": {"scale": {"y": "independent"}},
 "layer": [
  {"data": {"name": "b5"}, "layer": [
   {"mark": {"type": "bar", "color": "#000"}, "encoding": {
     "x": {"field": "c", "type": "nominal", "sort": null, "scale": {"paddingInner": 0.15, "paddingOuter": 0.05}, "axis": {"title": null}},
     "y": {"field": "d", "type": "quantitative", "scale": {"domain": [0, 40]}, "axis": {"orient": "left", "values": [0,5,10,15,20,25,30,35,40], "title": null}}}},
   {"mark": {"type": "errorbar", "ticks": true, "size": 8, "thickness": 1.3, "color": "#000"}, "encoding": {
     "x": {"field": "c", "type": "nominal", "sort": null, "axis": {"title": null}},
     "y": {"field": "d", "type": "quantitative", "scale": {"domain": [0, 40]}, "axis": {"orient": "left", "values": [0,5,10,15,20,25,30,35,40], "title": null}},
     "y2": {"field": "h"}}},
   {"mark": {"type": "text", "baseline": "alphabetic", "dy": 2, "fontSize": 11, "fontWeight": "bold", "color": "#000"}, "encoding": {
     "x": {"field": "c", "type": "nominal", "sort": null, "axis": {"title": null}},
     "y": {"field": "h", "type": "quantitative", "scale": {"domain": [0, 40]}, "axis": {"orient": "left", "values": [0,5,10,15,20,25,30,35,40], "title": null}},
     "text": {"field": "t"}}}
  ]},
  {"data": {"name": "l5"}, "layer": [
   {"mark": {"type": "line", "strokeWidth": 1.8}, "encoding": {
     "x": {"field": "c", "type": "nominal", "sort": null, "axis": {"title": null}},
     "y": {"field": "v", "type": "quantitative", "scale": {"domain": [0, 120]}, "axis": {"orient": "right", "values": [0,20,40,60,80,100,120], "title": null}},
     "stroke": {"field": "s", "type": "nominal", "scale": {"range": ["#ff0000","#0000ff","#f7a54a"]}, "legend": {"orient": "none", "legendX": 11, "legendY": 69, "title": null, "symbolType": "M-3.5,0H3.5", "symbolStrokeWidth": 1.8, "labelExpr": "' '", "labelOffset": -4}},
     "order": {"value": null}}},
   {"mark": {"type": "errorbar", "ticks": true, "size": 7, "thickness": 1.3}, "encoding": {
     "x": {"field": "c", "type": "nominal", "sort": null, "axis": {"title": null}},
     "y": {"field": "v", "type": "quantitative", "scale": {"domain": [0, 120]}, "axis": {"orient": "right", "values": [0,20,40,60,80,100,120], "title": null}},
     "yError": {"field": "e"},
     "color": {"field": "s", "type": "nominal", "scale": {"domain": ["ATP","Cell viability","MTS"], "range": ["#ff0000","#0000ff","#f7a54a"]}}}},
   {"mark": {"type": "point", "filled": true, "opacity": 1}, "encoding": {
     "x": {"field": "c", "type": "nominal", "sort": null, "axis": {"title": null}},
     "y": {"field": "v", "type": "quantitative", "scale": {"domain": [0, 120]}, "axis": {"orient": "right", "values": [0,20,40,60,80,100,120], "title": null}},
     "color": {"field": "s", "type": "nominal", "scale": {"domain": ["ATP","Cell viability","MTS"], "range": ["#ff0000","#0000ff","#f7a54a"]}, "legend": {"orient": "none", "legendX": 14, "legendY": 69, "title": null}},
     "shape": {"field": "s", "type": "nominal", "scale": {"domain": ["ATP","Cell viability","MTS"], "range": ["square","circle","triangle-up"]}, "legend": {"orient": "none", "legendX": 14, "legendY": 69, "title": null}},
     "size": {"field": "s", "type": "nominal", "scale": {"domain": ["ATP","Cell viability","MTS"], "range": [55,36,30]}, "legend": null}}}
  ]}
 ]
},
{
 "title": {"text": "HQ", "offset": -21}, "width": 501, "height": 168,
 "resolve": {"scale": {"y": "independent"}},
 "layer": [
  {"data": {"name": "b6"}, "layer": [
   {"mark": {"type": "bar", "color": "#000"}, "encoding": {
     "x": {"field": "c", "type": "nominal", "sort": null, "scale": {"paddingInner": 0.15, "paddingOuter": 0.05}, "axis": {"title": null}},
     "y": {"field": "d", "type": "quantitative", "scale": {"domain": [0, 40]}, "axis": {"orient": "left", "values": [0,5,10,15,20,25,30,35,40], "title": null}}}},
   {"mark": {"type": "errorbar", "ticks": true, "size": 8, "thickness": 1.3, "color": "#000"}, "encoding": {
     "x": {"field": "c", "type": "nominal", "sort": null, "axis": {"title": null}},
     "y": {"field": "d", "type": "quantitative", "scale": {"domain": [0, 40]}, "axis": {"orient": "left", "values": [0,5,10,15,20,25,30,35,40], "title": null}},
     "y2": {"field": "h"}}},
   {"mark": {"type": "text", "baseline": "alphabetic", "dy": 2, "fontSize": 11, "fontWeight": "bold", "color": "#000"}, "encoding": {
     "x": {"field": "c", "type": "nominal", "sort": null, "axis": {"title": null}},
     "y": {"field": "h", "type": "quantitative", "scale": {"domain": [0, 40]}, "axis": {"orient": "left", "values": [0,5,10,15,20,25,30,35,40], "title": null}},
     "text": {"field": "t"}}}
  ]},
  {"data": {"name": "l6"}, "layer": [
   {"mark": {"type": "line", "strokeWidth": 1.8}, "encoding": {
     "x": {"field": "c", "type": "nominal", "sort": null, "axis": {"title": null}},
     "y": {"field": "v", "type": "quantitative", "scale": {"domain": [0, 120]}, "axis": {"orient": "right", "values": [0,20,40,60,80,100,120], "title": null}},
     "stroke": {"field": "s", "type": "nominal", "scale": {"range": ["#ff0000","#0000ff","#f7a54a"]}, "legend": {"orient": "none", "legendX": 11, "legendY": 72, "title": null, "symbolType": "M-3.5,0H3.5", "symbolStrokeWidth": 1.8, "labelExpr": "' '", "labelOffset": -4}},
     "order": {"value": null}}},
   {"mark": {"type": "errorbar", "ticks": true, "size": 7, "thickness": 1.3}, "encoding": {
     "x": {"field": "c", "type": "nominal", "sort": null, "axis": {"title": null}},
     "y": {"field": "v", "type": "quantitative", "scale": {"domain": [0, 120]}, "axis": {"orient": "right", "values": [0,20,40,60,80,100,120], "title": null}},
     "yError": {"field": "e"},
     "color": {"field": "s", "type": "nominal", "scale": {"domain": ["ATP","Cell viability","MTS"], "range": ["#ff0000","#0000ff","#f7a54a"]}}}},
   {"mark": {"type": "point", "filled": true, "opacity": 1}, "encoding": {
     "x": {"field": "c", "type": "nominal", "sort": null, "axis": {"title": null}},
     "y": {"field": "v", "type": "quantitative", "scale": {"domain": [0, 120]}, "axis": {"orient": "right", "values": [0,20,40,60,80,100,120], "title": null}},
     "color": {"field": "s", "type": "nominal", "scale": {"domain": ["ATP","Cell viability","MTS"], "range": ["#ff0000","#0000ff","#f7a54a"]}, "legend": {"orient": "none", "legendX": 14, "legendY": 72, "title": null}},
     "shape": {"field": "s", "type": "nominal", "scale": {"domain": ["ATP","Cell viability","MTS"], "range": ["square","circle","triangle-up"]}, "legend": {"orient": "none", "legendX": 14, "legendY": 72, "title": null}},
     "size": {"field": "s", "type": "nominal", "scale": {"domain": ["ATP","Cell viability","MTS"], "range": [55,36,30]}, "legend": null}}}
  ]}
 ]
},
{
 "title": {"text": "MMS", "offset": -17}, "width": 501, "height": 163,
 "resolve": {"scale": {"y": "independent"}},
 "layer": [
  {"data": {"name": "b7"}, "layer": [
   {"mark": {"type": "bar", "color": "#000"}, "encoding": {
     "x": {"field": "c", "type": "nominal", "sort": null, "scale": {"paddingInner": 0.15, "paddingOuter": 0.05}, "axis": {"title": "Concentration (µM)", "titlePadding": 6}},
     "y": {"field": "d", "type": "quantitative", "scale": {"domain": [0, 80]}, "axis": {"orient": "left", "values": [0,10,20,30,40,50,60,70,80], "title": null}}}},
   {"mark": {"type": "errorbar", "ticks": true, "size": 8, "thickness": 1.3, "color": "#000"}, "encoding": {
     "x": {"field": "c", "type": "nominal", "sort": null, "axis": {"title": "Concentration (µM)", "titlePadding": 6}},
     "y": {"field": "d", "type": "quantitative", "scale": {"domain": [0, 80]}, "axis": {"orient": "left", "values": [0,10,20,30,40,50,60,70,80], "title": null}},
     "y2": {"field": "h"}}},
   {"mark": {"type": "text", "baseline": "alphabetic", "dy": 2, "fontSize": 11, "fontWeight": "bold", "color": "#000"}, "encoding": {
     "x": {"field": "c", "type": "nominal", "sort": null, "axis": {"title": "Concentration (µM)", "titlePadding": 6}},
     "y": {"field": "h", "type": "quantitative", "scale": {"domain": [0, 80]}, "axis": {"orient": "left", "values": [0,10,20,30,40,50,60,70,80], "title": null}},
     "text": {"field": "t"}}}
  ]},
  {"data": {"name": "l7"}, "layer": [
   {"mark": {"type": "line", "strokeWidth": 1.8}, "encoding": {
     "x": {"field": "c", "type": "nominal", "sort": null, "axis": {"title": "Concentration (µM)", "titlePadding": 6}},
     "y": {"field": "v", "type": "quantitative", "scale": {"domain": [0, 120]}, "axis": {"orient": "right", "values": [0,40,80,120], "title": null}},
     "stroke": {"field": "s", "type": "nominal", "scale": {"range": ["#ff0000","#0000ff","#f7a54a"]}, "legend": {"orient": "none", "legendX": 11, "legendY": 70, "title": null, "symbolType": "M-3.5,0H3.5", "symbolStrokeWidth": 1.8, "labelExpr": "' '", "labelOffset": -4}},
     "order": {"value": null}}},
   {"mark": {"type": "errorbar", "ticks": true, "size": 7, "thickness": 1.3}, "encoding": {
     "x": {"field": "c", "type": "nominal", "sort": null, "axis": {"title": "Concentration (µM)", "titlePadding": 6}},
     "y": {"field": "v", "type": "quantitative", "scale": {"domain": [0, 120]}, "axis": {"orient": "right", "values": [0,40,80,120], "title": null}},
     "yError": {"field": "e"},
     "color": {"field": "s", "type": "nominal", "scale": {"domain": ["ATP","Cell viability","MTS"], "range": ["#ff0000","#0000ff","#f7a54a"]}}}},
   {"mark": {"type": "point", "filled": true, "opacity": 1}, "encoding": {
     "x": {"field": "c", "type": "nominal", "sort": null, "axis": {"title": "Concentration (µM)", "titlePadding": 6}},
     "y": {"field": "v", "type": "quantitative", "scale": {"domain": [0, 120]}, "axis": {"orient": "right", "values": [0,40,80,120], "title": null}},
     "color": {"field": "s", "type": "nominal", "scale": {"domain": ["ATP","Cell viability","MTS"], "range": ["#ff0000","#0000ff","#f7a54a"]}, "legend": {"orient": "none", "legendX": 14, "legendY": 70, "title": null}},
     "shape": {"field": "s", "type": "nominal", "scale": {"domain": ["ATP","Cell viability","MTS"], "range": ["square","circle","triangle-up"]}, "legend": {"orient": "none", "legendX": 14, "legendY": 70, "title": null}},
     "size": {"field": "s", "type": "nominal", "scale": {"domain": ["ATP","Cell viability","MTS"], "range": [55,36,30]}, "legend": null}}}
  ]}
 ]
}
]
}
